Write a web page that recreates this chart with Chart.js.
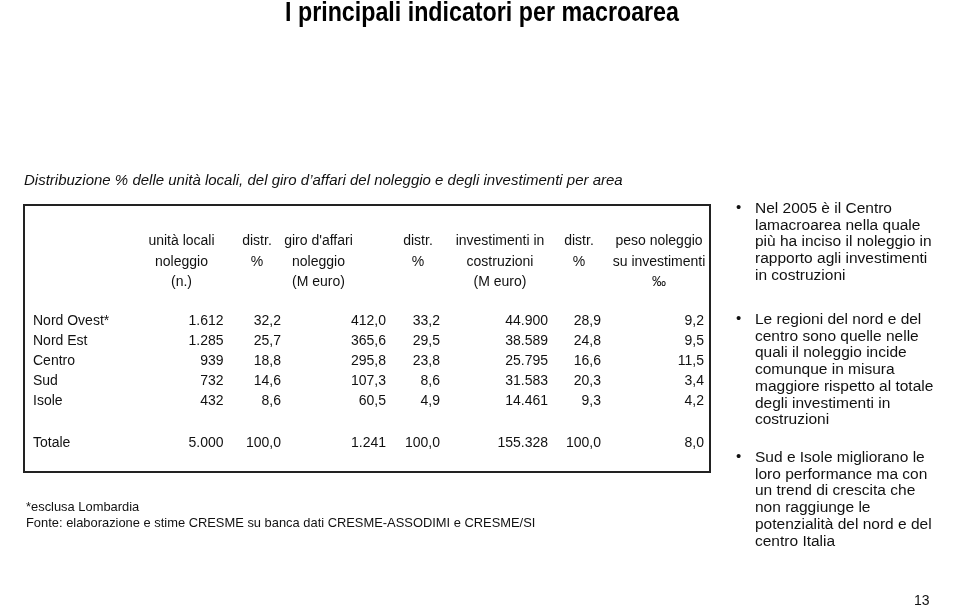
<!DOCTYPE html>
<html lang="it">
<head>
<meta charset="utf-8">
<title>I principali indicatori per macroarea</title>
<script src="https://cdn.jsdelivr.net/npm/chart.js@4.4.1/dist/chart.umd.min.js"></script>
<style>
  html, body { margin: 0; padding: 0; background: #fff; }
  body { width: 960px; height: 607px; position: relative; overflow: hidden;
         font-family: "Liberation Sans", Arial, sans-serif; color: #111; }
  #wrap { position: absolute; left: 0; top: 0; width: 960px; height: 607px; }
  h1 { position: absolute; left: 2px; top: -4px; width: 960px; margin: 0; text-align: center;
       font: bold 28px "Liberation Sans", Arial, sans-serif; color: #000;
       transform: scaleX(0.83); transform-origin: 480px 0; }
  .bullets { position: absolute; left: 755px; top: 0; font-size: 15.5px; line-height: 16.7px; }
  .bullets div { position: absolute; left: 0; white-space: nowrap; }
  .bullets div::before { content: "\2022"; position: absolute; left: -19px; top: -1px; font-size: 15px; }
  .note { position: absolute; left: 26px; font-size: 12.9px; line-height: 16px; }
  .page { position: absolute; left: 914px; top: 592px; font-size: 14px; }
</style>
</head>
<body>
<div id="wrap"><canvas id="tabella"></canvas></div>
<h1>I principali indicatori per macroarea</h1>

<div class="bullets">
  <div style="top:200px">Nel 2005 è il Centro<br>lamacroarea nella quale<br>più ha inciso il noleggio in<br>rapporto agli investimenti<br>in costruzioni</div>
  <div style="top:311px">Le regioni del nord e del<br>centro sono quelle nelle<br>quali il noleggio incide<br>comunque in misura<br>maggiore rispetto al totale<br>degli investimenti in<br>costruzioni</div>
  <div style="top:449px">Sud e Isole migliorano le<br>loro performance ma con<br>un trend di crescita che<br>non raggiunge le<br>potenzialità del nord e del<br>centro Italia</div>
</div>

<div class="note" style="top:499px">*esclusa Lombardia</div>
<div class="note" style="top:515px">Fonte: elaborazione e stime CRESME su banca dati CRESME-ASSODIMI e CRESME/SI</div>
<div class="page">13</div>

<script>
// ---- dati ----
const areas = ["Nord Ovest*", "Nord Est", "Centro", "Sud", "Isole", "Totale"];
const unitaLocali = [1612, 1285, 939, 732, 432, 5000];
const distrUnita = [32.2, 25.7, 18.8, 14.6, 8.6, 100.0];
const giroAffari = [412.0, 365.6, 295.8, 107.3, 60.5, 1241];
const distrGiro = [33.2, 29.5, 23.8, 8.6, 4.9, 100.0];
const investimenti = [44900, 38589, 25795, 31583, 14461, 155328];
const distrInvest = [28.9, 24.8, 16.6, 20.3, 9.3, 100.0];
const pesoNoleggio = [9.2, 9.5, 11.5, 3.4, 4.2, 8.0];

const headers = [
  ["unità locali", "noleggio", "(n.)"],
  ["distr.", "%"],
  ["giro d'affari", "noleggio", "(M euro)"],
  ["distr.", "%"],
  ["investimenti in", "costruzioni", "(M euro)"],
  ["distr.", "%"],
  ["peso noleggio", "su investimenti", "‰"],
];
const caption = "Distribuzione % delle unità locali, del giro d’affari del noleggio e degli investimenti per area";

// decimali per colonna (riga Totale a parte)
const decimals = [0, 1, 1, 1, 0, 1, 1];
const totalDecimals = [0, 1, 0, 1, 0, 1, 1];

// ---- layout della tabella (unità delle scale) ----
const columns = [unitaLocali, distrUnita, giroAffari, distrGiro, investimenti, distrInvest, pesoNoleggio];
const colRight = [223.5, 281, 386, 440, 548, 601, 704];   // bordo destro dei numeri
const colHead = [181.5, 257, 318.5, 418, 500, 579, 659];  // centro delle intestazioni
const rowPos = [0, 1, 2, 3, 4, 6.1];                       // righe (unità scala y)
const headRows = [-4.0, -2.95, -1.95];
const labelX = 33;

// formato italiano: 1.612 / 412,0
function fmt(v, d) {
  const parts = v.toFixed(d).split(".");
  const int = parts[0].replace(/\B(?=(\d{3})+(?!\d))/g, ".");
  return parts[1] ? int + "," + parts[1] : int;
}

const FONT = '14px "Liberation Sans", Arial, sans-serif';

const tablePlugin = {
  id: "tablePlugin",
  afterDatasetsDraw(chart) {
    const { ctx, chartArea: a, scales: { x, y } } = chart;
    ctx.save();
    // cornice
    ctx.strokeStyle = "#222";
    ctx.lineWidth = 2;
    ctx.strokeRect(a.left, a.top, a.right - a.left, a.bottom - a.top);

    ctx.font = FONT;
    ctx.fillStyle = "#111";
    ctx.textBaseline = "middle";

    // intestazioni
    ctx.textAlign = "center";
    headers.forEach((lines, c) => {
      lines.forEach((t, i) => ctx.fillText(t, x.getPixelForValue(colHead[c]), y.getPixelForValue(headRows[i])));
    });

    // etichette di riga
    ctx.textAlign = "left";
    areas.forEach((t, r) => ctx.fillText(t, x.getPixelForValue(labelX), y.getPixelForValue(rowPos[r])));

    // valori
    ctx.textAlign = "right";
    chart.data.datasets.forEach((ds, c) => {
      chart.getDatasetMeta(c).data.forEach((pt, r) => {
        const d = r === areas.length - 1 ? totalDecimals[c] : decimals[c];
        ctx.fillText(fmt(ds.values[r], d), pt.x, pt.y);
      });
    });
    ctx.restore();
  },
};

new Chart(document.getElementById("tabella"), {
  type: "scatter",
  data: {
    datasets: columns.map((vals, c) => ({
      values: vals,
      data: vals.map((v, r) => ({ x: colRight[c], y: rowPos[r] })),
      pointRadius: 0,
      pointHoverRadius: 0,
    })),
  },
  options: {
    responsive: true,
    maintainAspectRatio: false,
    animation: false,
    events: [],
    layout: { padding: { left: 24, right: 250, top: 0, bottom: 135 } },
    scales: {
      x: { type: "linear", min: 24, max: 710, display: false },
      y: { type: "linear", min: -5.8, max: 7.55, reverse: true, display: false },
    },
    plugins: {
      legend: { display: false },
      tooltip: { enabled: false },
      title: {
        display: true,
        text: caption,
        align: "start",
        color: "#111",
        font: { family: '"Liberation Sans", Arial, sans-serif', size: 15, style: "italic", weight: "normal", lineHeight: 1.2 },
        padding: { top: 172, bottom: 15 },
      },
    },
  },
  plugins: [tablePlugin],
});
</script>
</body>
</html>
